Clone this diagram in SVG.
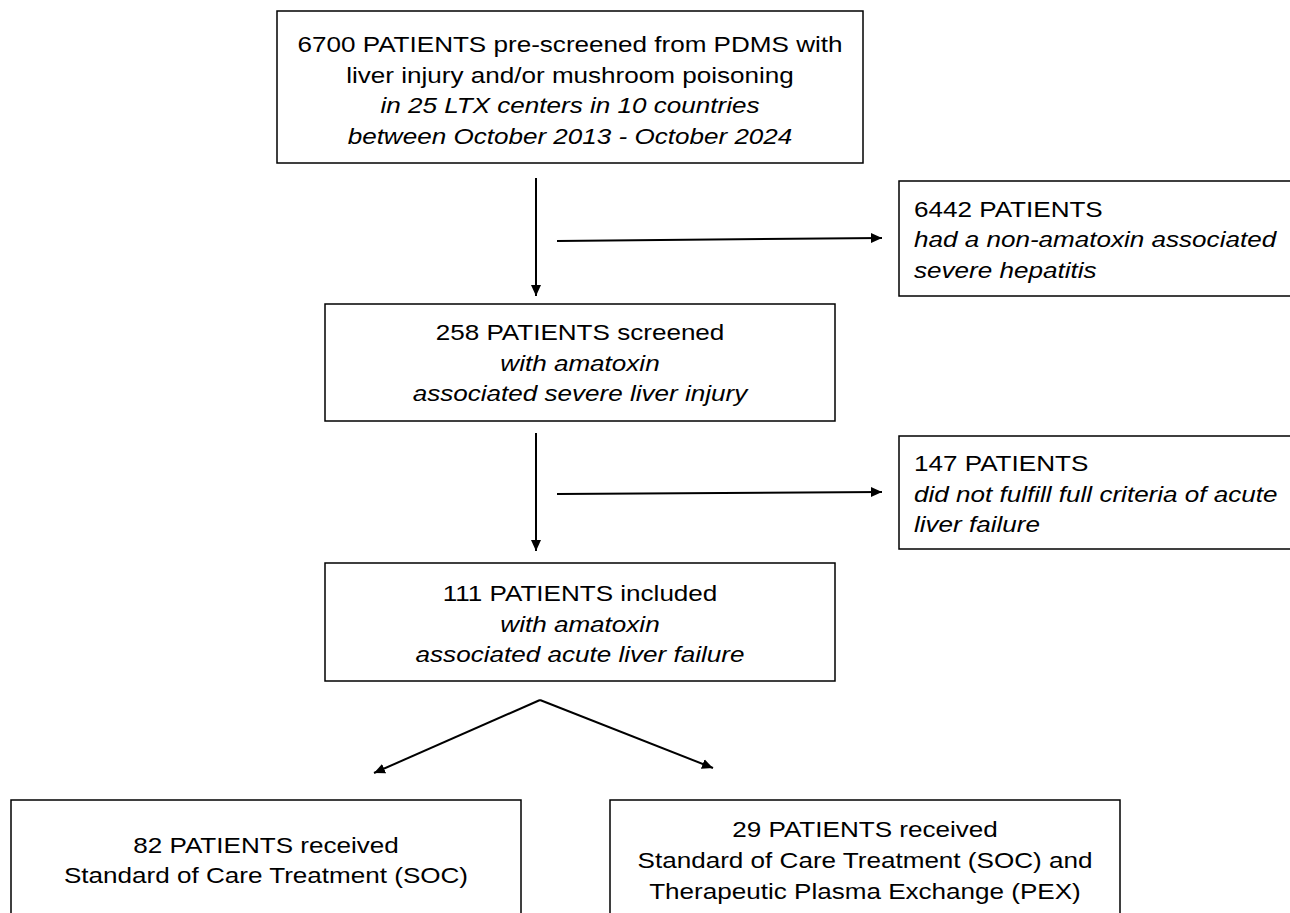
<svg xmlns="http://www.w3.org/2000/svg" width="1290" height="913" viewBox="0 0 1290 913">
<defs>
<marker id="ah" markerWidth="12" markerHeight="12" refX="11" refY="5.5" orient="auto" markerUnits="userSpaceOnUse">
<path d="M0,0.5 L11,5.5 L0,10.5 Z" fill="#000"/>
</marker>
</defs>
<style>
.box{fill:#fff;stroke:#000;stroke-width:1.5}
text{font-family:"Liberation Sans",Arial,sans-serif;font-size:22px;fill:#000}
.c{text-anchor:middle}
.i{font-style:italic}
.con{stroke:#000;stroke-width:2;fill:none}
</style>
<rect width="1290" height="913" fill="#fff"/>
<g id="n_top">
<rect class="box" x="277" y="11" width="586" height="152"/>
<text class="c" transform="matrix(1.185 0 0 1 570 0)" x="0" y="52">6700 PATIENTS pre-screened from PDMS with</text>
<text class="c" transform="matrix(1.185 0 0 1 570 0)" x="0" y="83">liver injury and/or mushroom poisoning</text>
<text class="c i" transform="matrix(1.185 0 0 1 570 0)" x="0" y="113">in 25 LTX centers in 10 countries</text>
<text class="c i" transform="matrix(1.185 0 0 1 570 0)" x="0" y="144">between October 2013 - October 2024</text>
</g>
<g id="n_excl1">
<rect class="box" x="899" y="181" width="395" height="115"/>
<text transform="matrix(1.185 0 0 1 914 0)" x="0" y="217">6442 PATIENTS</text>
<text class="i" transform="matrix(1.185 0 0 1 914 0)" x="0" y="247">had a non-amatoxin associated</text>
<text class="i" transform="matrix(1.185 0 0 1 914 0)" x="0" y="278">severe hepatitis</text>
</g>
<g id="n_screened">
<rect class="box" x="325" y="304" width="510" height="117"/>
<text class="c" transform="matrix(1.185 0 0 1 580 0)" x="0" y="340">258 PATIENTS screened</text>
<text class="c i" transform="matrix(1.185 0 0 1 580 0)" x="0" y="371">with amatoxin</text>
<text class="c i" transform="matrix(1.185 0 0 1 580 0)" x="0" y="401">associated severe liver injury</text>
</g>
<g id="n_excl2">
<rect class="box" x="899" y="436" width="395" height="113"/>
<text transform="matrix(1.185 0 0 1 914 0)" x="0" y="471">147 PATIENTS</text>
<text class="i" transform="matrix(1.185 0 0 1 914 0)" x="0" y="502">did not fulfill full criteria of acute</text>
<text class="i" transform="matrix(1.185 0 0 1 914 0)" x="0" y="532">liver failure</text>
</g>
<g id="n_included">
<rect class="box" x="325" y="563" width="510" height="118"/>
<text class="c" transform="matrix(1.185 0 0 1 580 0)" x="0" y="601">111 PATIENTS included</text>
<text class="c i" transform="matrix(1.185 0 0 1 580 0)" x="0" y="632">with amatoxin</text>
<text class="c i" transform="matrix(1.185 0 0 1 580 0)" x="0" y="662">associated acute liver failure</text>
</g>
<g id="n_soc">
<rect class="box" x="11" y="800" width="510" height="120"/>
<text class="c" transform="matrix(1.185 0 0 1 266 0)" x="0" y="853">82 PATIENTS received</text>
<text class="c" transform="matrix(1.185 0 0 1 266 0)" x="0" y="883">Standard of Care Treatment (SOC)</text>
</g>
<g id="n_pex">
<rect class="box" x="610" y="800" width="510" height="120"/>
<text class="c" transform="matrix(1.185 0 0 1 865 0)" x="0" y="837">29 PATIENTS received</text>
<text class="c" transform="matrix(1.185 0 0 1 865 0)" x="0" y="868">Standard of Care Treatment (SOC) and</text>
<text class="c" transform="matrix(1.185 0 0 1 865 0)" x="0" y="899">Therapeutic Plasma Exchange (PEX)</text>
</g>
<g id="connectors">
<line class="con" x1="536" y1="178" x2="536" y2="296" marker-end="url(#ah)"/>
<line class="con" x1="557" y1="241" x2="882" y2="238" marker-end="url(#ah)"/>
<line class="con" x1="536" y1="433" x2="536" y2="551" marker-end="url(#ah)"/>
<line class="con" x1="557" y1="494" x2="882" y2="492" marker-end="url(#ah)"/>
<line class="con" x1="540" y1="700" x2="374" y2="773" marker-end="url(#ah)"/>
<line class="con" x1="540" y1="700" x2="713" y2="768" marker-end="url(#ah)"/>
</g>
</svg>
